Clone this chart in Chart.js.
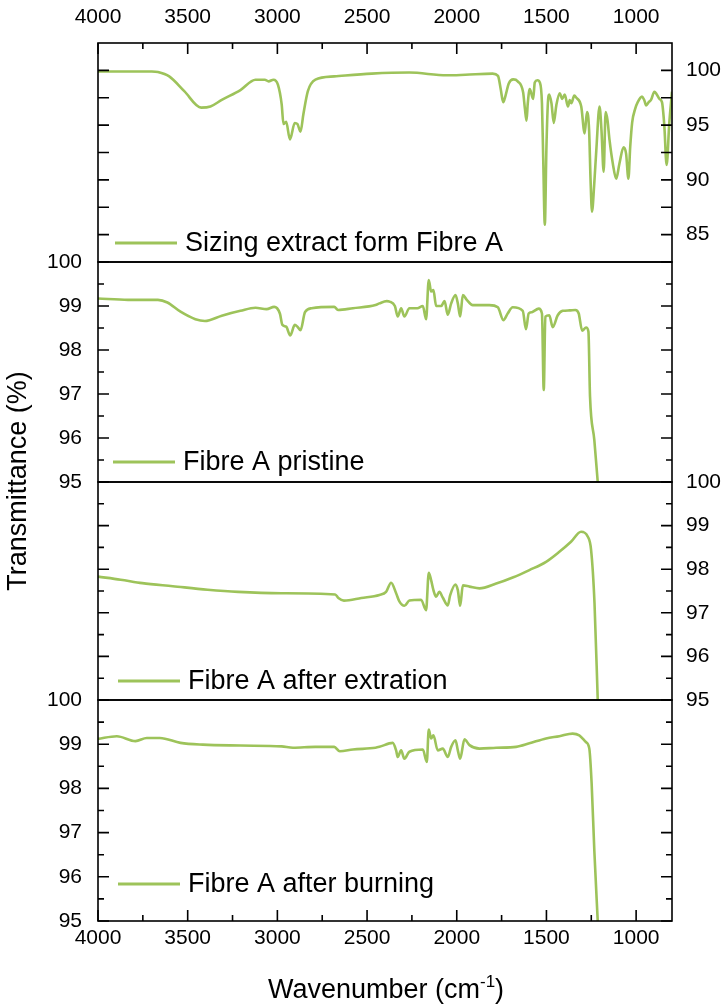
<!DOCTYPE html>
<html lang="en">
<head>
<meta charset="utf-8">
<title>FTIR spectra - Fibre A</title>
<script src="https://cdn.jsdelivr.net/npm/chart.js"></script>
<style>
  body { margin: 0; background: #fff; }
  #wrap { position: relative; width: 721px; height: 1005px; }
  #wrap canvas { position: absolute; left: 0; top: 0; }
</style>
</head>
<body>
<div id="wrap">
  <canvas id="c1" width="721" height="1005"></canvas>
  <canvas id="c2" width="721" height="1005"></canvas>
  <canvas id="c3" width="721" height="1005"></canvas>
  <canvas id="c4" width="721" height="1005"></canvas>
</div>

<script type="text/javascript">

// wavenumber axis
const xMajorTicks = [4000, 3500, 3000, 2500, 2000, 1500, 1000];
const xMinorTicks = [3750, 3250, 2750, 2250, 1750, 1250];

// sizing extract
const sizingWave = [4000, 3700, 3666, 3603, 3519, 3425, 3373, 3310, 3206, 3122, 3070, 3049, 3022, 2997, 2976, 2966, 2951, 2930, 2903, 2888, 2871, 2855, 2830, 2788, 2683, 2474, 2265, 2056, 1952, 1800, 1770, 1755, 1741, 1728, 1710, 1685, 1660, 1630, 1620, 1611, 1604, 1593, 1574, 1565, 1550, 1537, 1525, 1518, 1509, 1500, 1492, 1485, 1472, 1459, 1445, 1426, 1412, 1398, 1380, 1370, 1361, 1345, 1333, 1306, 1287, 1274, 1262, 1254, 1246, 1234, 1222, 1204, 1193, 1181, 1170, 1160, 1148, 1130, 1111, 1093, 1070, 1056, 1043, 1033, 1022, 1005, 991, 967, 955, 944, 930, 917, 898, 885, 870, 856, 843, 830, 815, 800];
const sizingT = [99.9, 99.9, 99.85, 99.45, 98.1, 96.6, 96.7, 97.3, 98.2, 99.15, 99.15, 99.0, 99.15, 98.7, 96.9, 95.1, 95.3, 93.7, 95.2, 95.1, 94.4, 96.0, 98.1, 99.15, 99.45, 99.7, 99.8, 99.55, 99.6, 99.7, 99.5, 98.3, 97.1, 97.7, 98.8, 99.18, 99.0, 98.0, 96.5, 95.4, 97.0, 98.3, 97.4, 98.9, 99.1, 98.9, 97.0, 92.0, 85.9, 93.0, 97.0, 97.8, 97.0, 95.2, 96.8, 97.9, 97.4, 97.8, 96.7, 97.3, 97.0, 97.7, 97.5, 96.7, 94.25, 96.2, 94.5, 90.0, 87.1, 89.5, 92.7, 96.7, 94.5, 90.75, 96.2, 95.5, 93.6, 91.5, 90.1, 91.5, 92.97, 92.4, 90.1, 93.0, 95.25, 96.5, 97.1, 97.6, 97.3, 96.8, 97.1, 97.3, 98.05, 97.8, 97.4, 97.1, 95.0, 91.36, 95.2, 98.05];

// fibre A pristine
const pristineWave = [4000, 3833, 3666, 3613, 3540, 3457, 3404, 3310, 3206, 3122, 3060, 3018, 2986, 2972, 2951, 2928, 2903, 2888, 2871, 2846, 2809, 2683, 2662, 2579, 2453, 2431, 2390, 2375, 2345, 2329, 2310, 2292, 2264, 2220, 2189, 2171, 2156, 2143, 2130, 2115, 2087, 2068, 2050, 2031, 2007, 1994, 1981, 1966, 1944, 1911, 1818, 1771, 1740, 1716, 1688, 1632, 1614, 1599, 1581, 1543, 1525, 1515, 1506, 1484, 1465, 1437, 1409, 1372, 1339, 1320, 1301, 1279, 1266, 1257, 1233, 1214];
const pristineT = [99.17, 99.14, 99.14, 99.08, 98.87, 98.7, 98.66, 98.78, 98.89, 98.96, 98.93, 98.98, 98.83, 98.57, 98.53, 98.33, 98.57, 98.53, 98.45, 98.86, 98.95, 98.98, 98.91, 98.95, 99.02, 99.06, 99.11, 99.1, 99.0, 98.76, 98.95, 98.76, 98.95, 98.95, 99.0, 98.7, 99.59, 99.33, 99.36, 99.0, 99.0, 99.11, 98.8, 99.06, 99.25, 99.06, 98.76, 99.25, 99.14, 99.02, 99.02, 98.97, 98.68, 98.83, 98.97, 98.89, 98.47, 98.83, 98.86, 98.94, 98.83, 97.09, 98.76, 98.79, 98.52, 98.79, 98.89, 98.9, 98.91, 98.83, 98.44, 98.51, 98.42, 96.94, 95.95, 95.0];

// fibre A after extraction
const extractedWave = [4000, 3874, 3753, 3583, 3389, 3219, 2977, 2678, 2660, 2629, 2532, 2431, 2394, 2366, 2338, 2320, 2292, 2264, 2199, 2171, 2156, 2143, 2130, 2115, 2097, 2078, 2050, 2037, 2007, 1994, 1981, 1966, 1929, 1873, 1780, 1688, 1595, 1502, 1428, 1363, 1307, 1270, 1251, 1232, 1214];
const extractedT = [97.83, 97.76, 97.68, 97.61, 97.53, 97.48, 97.45, 97.42, 97.34, 97.28, 97.34, 97.41, 97.48, 97.69, 97.45, 97.26, 97.16, 97.28, 97.3, 97.06, 97.92, 97.75, 97.52, 97.37, 97.48, 97.35, 97.17, 97.4, 97.65, 97.52, 97.16, 97.63, 97.6, 97.56, 97.67, 97.81, 97.98, 98.17, 98.4, 98.63, 98.86, 98.75, 98.44, 97.22, 95.0];

// fibre A after burning
const burnedWave = [4000, 3895, 3791, 3728, 3655, 3540, 3415, 3206, 2976, 2913, 2788, 2683, 2652, 2579, 2453, 2431, 2357, 2338, 2329, 2310, 2292, 2264, 2189, 2167, 2156, 2143, 2130, 2106, 2078, 2050, 2031, 2007, 1994, 1981, 1957, 1929, 1873, 1780, 1669, 1595, 1502, 1428, 1354, 1317, 1280, 1261, 1248, 1233, 1214];
const burnedT = [99.12, 99.18, 99.07, 99.14, 99.14, 99.03, 98.99, 98.97, 98.95, 98.92, 98.94, 98.94, 98.84, 98.88, 98.92, 98.94, 99.03, 98.86, 98.71, 98.86, 98.67, 98.83, 98.88, 98.6, 99.33, 99.13, 99.2, 98.86, 98.9, 98.71, 98.94, 99.09, 98.86, 98.67, 99.11, 98.98, 98.9, 98.92, 98.94, 99.02, 99.13, 99.18, 99.24, 99.2, 99.05, 98.9, 98.11, 96.59, 95.0];

// y tick labels
const sizingTicks = [85, 90, 95, 100];
const sizingMinor = [87.5, 92.5, 97.5];
const fibreTicks = [95, 96, 97, 98, 99, 100];
const fibreMinor = [95.5, 96.5, 97.5, 98.5, 99.5];

const green = '#9dc35a';
const fontFamily = "'Liberation Sans', Arial, sans-serif";
Chart.defaults.font.family = fontFamily;
Chart.defaults.color = '#000';

// box around plot area + inward ticks
const frameTicks = {
    id: 'frameTicks',
    afterDraw(chart, args, opts) {
        const { ctx, chartArea: { left, right, top, bottom }, scales: { x, y } } = chart;
        ctx.save();
        ctx.strokeStyle = '#000';
        ctx.lineWidth = 1.6;
        ctx.strokeRect(left, top, right - left, bottom - top);
        ctx.beginPath();
        const yTick = (v, len) => {
            const py = y.getPixelForValue(v);
            ctx.moveTo(left, py); ctx.lineTo(left + len, py);
            ctx.moveTo(right, py); ctx.lineTo(right - len, py);
        };
        opts.yMajor.forEach(v => yTick(v, 11));
        opts.yMinor.forEach(v => yTick(v, opts.yMinorLen));
        if (opts.xEdge) {
            const ey = opts.xEdge === 'top' ? top : bottom;
            const dir = opts.xEdge === 'top' ? 1 : -1;
            xMajorTicks.forEach(v => { const px = x.getPixelForValue(v); ctx.moveTo(px, ey); ctx.lineTo(px, ey + dir * 11); });
            xMinorTicks.forEach(v => { const px = x.getPixelForValue(v); ctx.moveTo(px, ey); ctx.lineTo(px, ey + dir * 6); });
        }
        ctx.stroke();
        ctx.restore();
    }
};

// legend entry inside the bottom-left corner of each panel
const innerLegend = {
    id: 'innerLegend',
    afterDraw(chart, args, opts) {
        const { ctx, chartArea: { left, bottom } } = chart;
        const ds = chart.data.datasets[0];
        const ly = bottom - opts.dy;
        ctx.save();
        ctx.strokeStyle = ds.borderColor;
        ctx.lineWidth = 3;
        ctx.beginPath();
        ctx.moveTo(left + opts.dx, ly);
        ctx.lineTo(left + opts.dx + 62, ly);
        ctx.stroke();
        ctx.fillStyle = '#000';
        ctx.font = '27px ' + fontFamily;
        ctx.textBaseline = 'middle';
        ctx.fillText(ds.label, left + opts.dx + 70, ly + 1);
        ctx.restore();
    }
};

// shared axis titles
const axisTitles = {
    id: 'axisTitles',
    afterDraw(chart) {
        const { ctx } = chart;
        ctx.save();
        ctx.fillStyle = '#000';
        ctx.font = '27px ' + fontFamily;
        ctx.textBaseline = 'middle';
        ctx.textAlign = 'center';
        ctx.translate(19, 481);
        ctx.rotate(-Math.PI / 2);
        ctx.fillText('Transmittance (%)', 0, 0);
        ctx.restore();

        ctx.save();
        ctx.fillStyle = '#000';
        ctx.textBaseline = 'alphabetic';
        const main = 'Wavenumber (cm';
        ctx.font = '27px ' + fontFamily;
        const w1 = ctx.measureText(main).width;
        const w3 = ctx.measureText(')').width;
        ctx.font = '17px ' + fontFamily;
        const w2 = ctx.measureText('-1').width;
        let sx = 386 - (w1 + w2 + w3) / 2;
        ctx.font = '27px ' + fontFamily;
        ctx.fillText(main, sx, 998);
        ctx.font = '17px ' + fontFamily;
        ctx.fillText('-1', sx + w1, 987);
        ctx.font = '27px ' + fontFamily;
        ctx.fillText(')', sx + w1 + w2, 998);
        ctx.restore();
    }
};

function toPoints(xs, ys) {
    return xs.map((w, i) => ({ x: w, y: ys[i] }));
}

function makePanel(id, p) {
    const xOpts = {
        type: 'linear', min: 800, max: 4000, reverse: true,
        display: p.xPos !== null,
        position: p.xPos || 'bottom',
        grid: { display: false, drawTicks: false },
        border: { display: false },
        ticks: {
            font: { size: 21 }, padding: p.xPos === 'top' ? 13 : 5, autoSkip: false, maxRotation: 0,
            callback: v => String(v)
        },
        afterBuildTicks: s => { s.ticks = xMajorTicks.map(v => ({ value: v })); },
        afterFit: s => { if (p.xPos) s.height = p.xHeight; }
    };
    const yOpts = {
        type: 'linear', min: p.yMin, max: p.yMax,
        position: p.yPos,
        grid: { display: false, drawTicks: false },
        border: { display: false },
        ticks: { font: { size: 21 }, padding: p.yPos === 'left' ? 16 : 14, callback: v => String(v) },
        afterBuildTicks: s => { s.ticks = p.yTicks.map(v => ({ value: v })); },
        afterFit: s => { s.width = p.yPos === 'left' ? 98 : 49; }
    };
    return new Chart(document.getElementById(id), {
        type: 'line',
        data: {
            datasets: [{
                label: p.label,
                data: toPoints(p.wave, p.t),
                borderColor: green,
                borderWidth: 2.6,
                pointRadius: 0,
                cubicInterpolationMode: 'monotone'
            }]
        },
        options: {
            responsive: false,
            animation: false,
            layout: { padding: p.padding },
            plugins: {
                legend: { display: false },
                tooltip: { enabled: false },
                frameTicks: { yMajor: p.yTicks, yMinor: p.yMinor, yMinorLen: p.yMinorLen, xEdge: p.xPos },
                innerLegend: p.legend
            },
            scales: { x: xOpts, y: yOpts }
        },
        plugins: [frameTicks, innerLegend].concat(p.extra || [])
    });
}

makePanel('c1', {
    label: 'Sizing extract form Fibre A', wave: sizingWave, t: sizingT,
    yMin: 82.5, yMax: 102.5, yPos: 'right', yTicks: sizingTicks, yMinor: sizingMinor, yMinorLen: 11,
    xPos: 'top', xHeight: 43,
    padding: { left: 98, right: 0, top: 0, bottom: 1005 - 262 },
    legend: { dx: 17, dy: 19 }
});

makePanel('c2', {
    label: 'Fibre A pristine', wave: pristineWave, t: pristineT,
    yMin: 95, yMax: 100, yPos: 'left', yTicks: fibreTicks, yMinor: fibreMinor, yMinorLen: 6,
    xPos: null,
    padding: { left: 0, right: 49, top: 262, bottom: 1005 - 482 },
    legend: { dx: 15, dy: 20 }
});

makePanel('c3', {
    label: 'Fibre A after extration', wave: extractedWave, t: extractedT,
    yMin: 95, yMax: 100, yPos: 'right', yTicks: fibreTicks, yMinor: fibreMinor, yMinorLen: 6,
    xPos: null,
    padding: { left: 98, right: 0, top: 482, bottom: 1005 - 700 },
    legend: { dx: 20, dy: 19 }
});

makePanel('c4', {
    label: 'Fibre A after burning', wave: burnedWave, t: burnedT,
    yMin: 95, yMax: 100, yPos: 'left', yTicks: fibreTicks, yMinor: fibreMinor, yMinorLen: 6,
    xPos: 'bottom', xHeight: 84,
    padding: { left: 0, right: 49, top: 700, bottom: 0 },
    legend: { dx: 20, dy: 37 },
    extra: [axisTitles]
});
</script>
</body>
</html>
